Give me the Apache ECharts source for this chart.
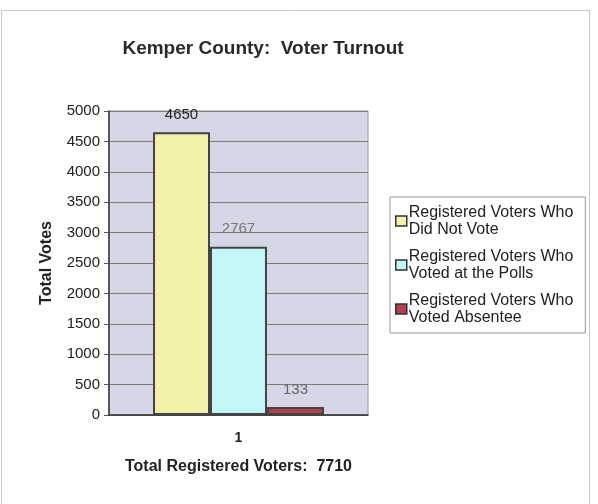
<!DOCTYPE html>
<html><head><meta charset="utf-8">
<script src="https://cdn.jsdelivr.net/npm/echarts@6/dist/echarts.min.js"></script>
<style>html,body{margin:0;padding:0;background:#fff}#c{width:598px;height:504px}</style>
</head><body><div id="c"></div>
<script>
const categories = ['1'];
const seriesNames = ['Registered Voters Who\nDid Not Vote', 'Registered Voters Who\nVoted at the Polls', 'Registered Voters Who\nVoted Absentee'];
const didNotVote = [4650];
const votedAtPolls = [2767];
const votedAbsentee = [133];
const yTicks = [0, 500, 1000, 1500, 2000, 2500, 3000, 3500, 4000, 4500, 5000];
const colors = ['#f4f1ab', '#c3f6f6', '#b2404f'];
const labelColors = ['#222', '#777', '#666'];
const values = [didNotVote, votedAtPolls, votedAbsentee];
const FONT = 'Liberation Sans, Arial, sans-serif';

const chart = echarts.init(document.getElementById('c'), null, {renderer: 'canvas'});
chart.setOption({
  backgroundColor: '#fff',
  animation: false,
  textStyle: {fontFamily: FONT},
  title: {
    text: 'Kemper County:  Voter Turnout',
    left: 258, top: 34, textAlign: 'center',
    textStyle: {fontFamily: FONT, fontSize: 19, fontWeight: 'bold', color: '#2a2a2a'}
  },
  graphic: [{
    type: 'rect', shape: {x: 1.5, y: 10.5, width: 588, height: 500},
    style: {fill: 'none', stroke: '#c8c8c8', lineWidth: 1}, silent: true
  }],
  legend: {
    orient: 'vertical', left: 390, top: 197,
    padding: [7, 12, 7, 5],
    borderColor: '#999', borderWidth: 1,
    itemWidth: 11, itemHeight: 10, itemGap: 10,
    icon: 'rect',
    itemStyle: {borderColor: '#333', borderWidth: 1.5},
    textStyle: {fontFamily: FONT, fontSize: 16, color: '#222', lineHeight: 17, padding: [0, 0, 0, -3]},
    data: seriesNames
  },
  grid: {
    left: 109, top: 111, width: 259, height: 304,
    show: true, backgroundColor: '#d5d7e7', borderColor: '#9a9a9a', borderWidth: 1
  },
  xAxis: {
    type: 'category', data: categories,
    axisLine: {lineStyle: {color: '#333', width: 1.5}},
    axisTick: {show: false},
    axisLabel: {fontFamily: FONT, fontSize: 14, color: '#222', margin: 16, fontWeight: 'bold'},
    name: 'Total Registered Voters:  7710', nameLocation: 'middle', nameGap: 44,
    nameTextStyle: {fontFamily: FONT, fontSize: 16, fontWeight: 'bold', color: '#222'}
  },
  yAxis: {
    type: 'value', min: 0, max: 5000, interval: 500,
    axisLine: {show: true, lineStyle: {color: '#333', width: 1.5}},
    axisTick: {show: true, length: 5, lineStyle: {color: '#555'}},
    axisLabel: {fontFamily: FONT, fontSize: 15, color: '#222', margin: 9,
      formatter: v => yTicks.includes(v) ? String(v) : ''},
    splitLine: {lineStyle: {color: '#7d7d7d', width: 1}},
    name: 'Total Votes', nameLocation: 'middle', nameGap: 54, nameRotate: 90,
    nameTextStyle: {fontFamily: FONT, fontSize: 16, fontWeight: 'bold', color: '#222'}
  },
  series: values.map((d, i) => ({
    name: seriesNames[i], type: 'bar', data: d,
    barGap: '0%', barCategoryGap: '34%',
    itemStyle: {color: colors[i], borderColor: '#444', borderWidth: 2},
    label: {show: true, position: 'top', distance: 10, fontFamily: FONT, fontSize: 15, color: labelColors[i]}
  }))
});
</script></body></html>
